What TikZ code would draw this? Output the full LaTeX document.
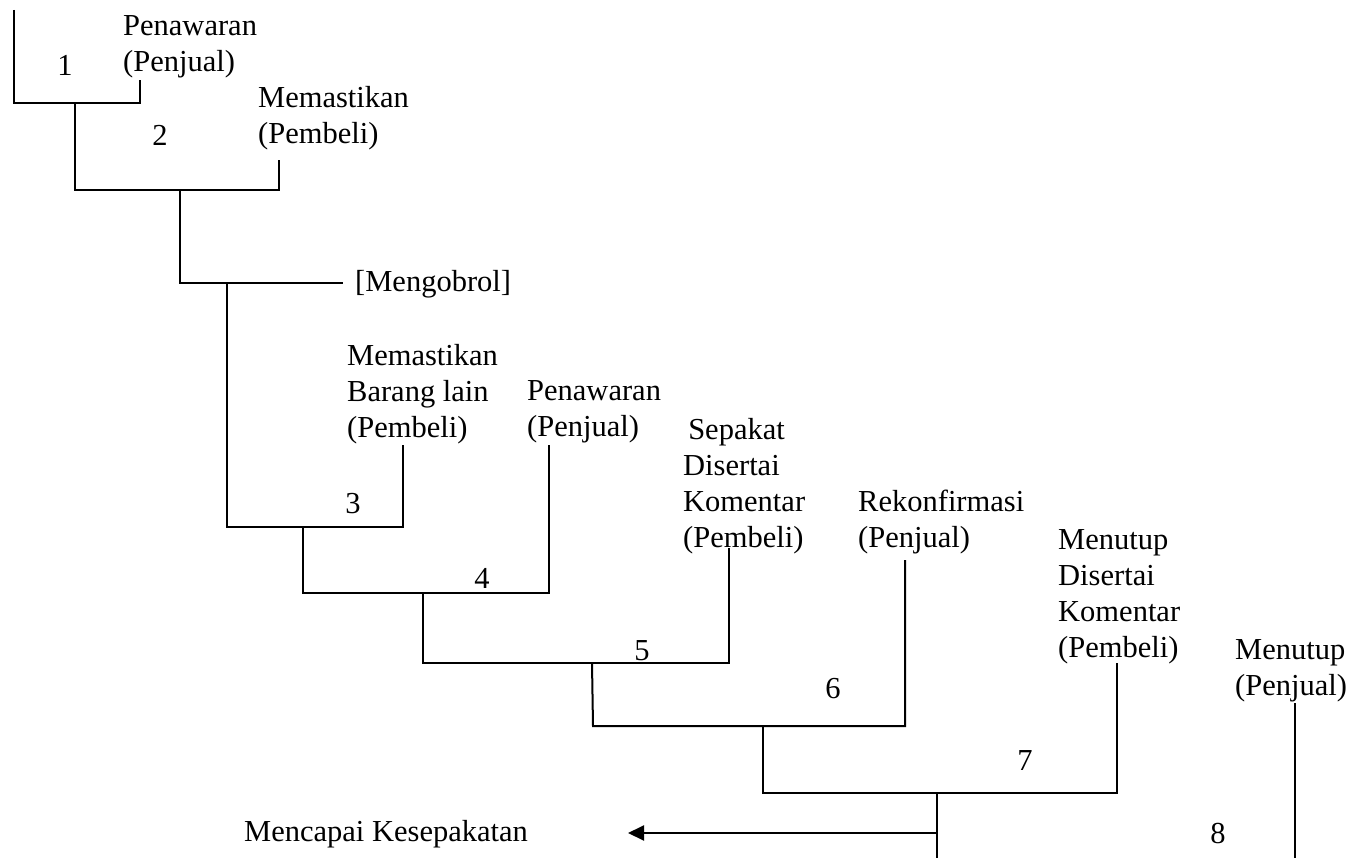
\documentclass[tikz,border=0pt]{standalone}
\usepackage{fontspec}
\setmainfont{Liberation Serif}
\usetikzlibrary{arrows.meta}
\tikzset{
  lbl/.style={anchor=west,align=left,inner sep=0pt,font=\fontsize{30.5}{36}\selectfont},
  num/.style={inner sep=0pt,font=\fontsize{30.5}{36}\selectfont},
  conn/.style={line width=2pt,line join=miter},
  arr/.style={conn,-{Triangle[length=16pt,width=15pt]}}
}
\begin{document}
\begin{tikzpicture}[x=1pt,y=-1pt]
\useasboundingbox (0,0) rectangle (1355,858);
% labels
\node[lbl] (t1) at (123,47) {Penawaran\\(Penjual)};
\node[num] (n1) at (65,65) {1};
\node[lbl] (t2) at (258,118) {Memastikan\\(Pembeli)};
\node[num] (n2) at (160,135) {2};
\node[lbl] (t3) at (355,284) {[Mengobrol]};
\node[lbl] (t4) at (347,394) {Memastikan\\Barang lain\\(Pembeli)};
\node[num] (n3) at (353,504) {3};
\node[lbl] (t5) at (527,412) {Penawaran\\(Penjual)};
\node[num] (n4) at (482,578) {4};
\node[lbl] (t6) at (683,486) {\,Sepakat\\Disertai\\Komentar\\(Pembeli)};
\node[num] (n5) at (642,651) {5};
\node[lbl] (t7) at (858,522) {Rekonfirmasi\\(Penjual)};
\node[num] (n6) at (833,689) {6};
\node[lbl] (t8) at (1058,597) {Menutup\\Disertai\\Komentar\\(Pembeli)};
\node[num] (n7) at (1025,761) {7};
\node[lbl] (t9) at (1235,671) {Menutup\\(Penjual)};
\node[num] (n8) at (1218,834) {8};
\node[lbl] (t10) at (244,834) {Mencapai Kesepakatan};
% junction coordinates
\coordinate (a0) at (14,10);
\coordinate (a1) at (14,103);
\coordinate (a2) at (140,103);
\coordinate (a3) at (140,80);
\coordinate (b0) at (75,103);
\coordinate (b1) at (75,190);
\coordinate (b2) at (279,190);
\coordinate (b3) at (279,160);
\coordinate (c0) at (180,190);
\coordinate (c1) at (180,283);
\coordinate (c2) at (343,283);
\coordinate (d0) at (227,283);
\coordinate (d1) at (227,527);
\coordinate (d2) at (403,527);
\coordinate (d3) at (403,445);
\coordinate (e0) at (303,527);
\coordinate (e1) at (303,593);
\coordinate (e2) at (549,593);
\coordinate (e3) at (549,445);
\coordinate (f0) at (423,593);
\coordinate (f1) at (423,663);
\coordinate (f2) at (729,663);
\coordinate (f3) at (729,548);
\coordinate (g0) at (592,663);
\coordinate (g1) at (593,726);
\coordinate (g2) at (905,726);
\coordinate (g3) at (905,560);
\coordinate (h0) at (763,726);
\coordinate (h1) at (763,793);
\coordinate (h2) at (1117,793);
\coordinate (h3) at (1117,663);
\coordinate (i0) at (937,793);
\coordinate (i1) at (937,858);
\coordinate (i2) at (937,833);
\coordinate (i3) at (628,833);
\coordinate (j0) at (1295,703);
\coordinate (j1) at (1295,858);
% connectors
\draw[conn] (a0) -- (a1) -- (a2) -- (a3);
\draw[conn] (b0) -- (b1) -- (b2) -- (b3);
\draw[conn] (c0) -- (c1) -- (c2);
\draw[conn] (d0) -- (d1) -- (d2) -- (d3);
\draw[conn] (e0) -- (e1) -- (e2) -- (e3);
\draw[conn] (f0) -- (f1) -- (f2) -- (f3);
\draw[conn] (g0) -- (g1) -- (g2) -- (g3);
\draw[conn] (h0) -- (h1) -- (h2) -- (h3);
\draw[conn] (i0) -- (i1);
\draw[arr] (i2) -- (i3);
\draw[conn] (j0) -- (j1);
\end{tikzpicture}
\end{document}
